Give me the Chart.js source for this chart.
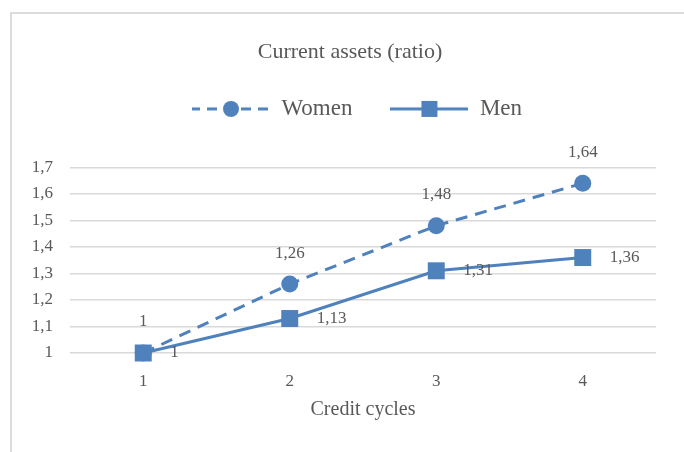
<!DOCTYPE html>
<html>
<head>
<meta charset="utf-8">
<script src="https://cdn.jsdelivr.net/npm/chart.js@4/dist/chart.umd.min.js"></script>
<style>
    html, body { margin: 0; padding: 0; background: #fff; overflow: hidden; }
    .frame {
        position: absolute;
        left: 10px;
        top: 12px;
        width: 676px;
        height: 446px;
        border-left: 2px solid #dcdcdc;
        border-top: 2px solid #dcdcdc;
    }
</style>
</head>
<body>
<div class="frame">
    <canvas id="assetsChart" width="676" height="446"></canvas>
</div>
<script>
const cycles = ['1', '2', '3', '4'];
const womenValues = [1, 1.26, 1.48, 1.64];
const menValues = [1, 1.13, 1.31, 1.36];
const yTicks = [1, 1.1, 1.2, 1.3, 1.4, 1.5, 1.6, 1.7];

const BLUE = '#4f81bd';
const TEXT = '#595959';
const GRID = '#d9d9d9';
const FONT = "'Liberation Serif', 'Times New Roman', serif";

Chart.defaults.font.family = FONT;
Chart.defaults.color = TEXT;

// comma as decimal separator, like the original
function fmt(v) {
    return String(Math.round(v * 100) / 100).replace('.', ',');
}

// little legend swatch: line with its marker in the middle
function legendIcon(dashed, marker) {
    const c = document.createElement('canvas');
    c.width = 78;
    c.height = 20;
    const g = c.getContext('2d');
    g.strokeStyle = BLUE;
    g.fillStyle = BLUE;
    g.lineWidth = 3;
    if (dashed) {
        g.setLineDash([10, 7]);
        g.lineDashOffset = 2;
    }
    g.beginPath();
    g.moveTo(0, 10);
    g.lineTo(78, 10);
    g.stroke();
    if (marker === 'circle') {
        g.beginPath();
        g.arc(39, 10, 8, 0, Math.PI * 2);
        g.fill();
    } else {
        g.fillRect(31, 2, 16, 16);
    }
    return c;
}

// empty boxes: one between legend and plot, one on the right of the plot
function emptyBox(position, size) {
    return {
        position: position,
        weight: 0,
        fullSize: position === 'top',
        options: {},
        isHorizontal() { return position === 'top'; },
        update(maxWidth, maxHeight) {
            if (position === 'top') {
                this.width = maxWidth;
                this.height = size;
            } else {
                this.width = size;
                this.height = maxHeight;
            }
        },
        draw() {}
    };
}

const spacer = {
    id: 'spacer',
    beforeInit(chart) {
        Chart.layouts.addBox(chart, emptyBox('top', 37));
        Chart.layouts.addBox(chart, emptyBox('right', 32));
    },
    afterLayout(chart) {
        // the original legend sits a bit right of the title
        chart.legend.left += 7;
        chart.legend.right += 7;
    }
};

const valueLabels = {
    id: 'valueLabels',
    afterDatasetsDraw(chart) {
        const ctx = chart.ctx;
        ctx.save();
        ctx.font = '17px ' + FONT;
        ctx.fillStyle = TEXT;
        ctx.textBaseline = 'middle';
        chart.data.datasets.forEach((ds, i) => {
            chart.getDatasetMeta(i).data.forEach((pt, j) => {
                const text = fmt(ds.data[j]);
                if (i === 0) {
                    ctx.textAlign = 'center';
                    ctx.fillText(text, pt.x, pt.y - 31);
                } else {
                    ctx.textAlign = 'left';
                    ctx.fillText(text, pt.x + 27, pt.y);
                }
            });
        });
        ctx.restore();
    }
};

const icons = [legendIcon(true, 'circle'), legendIcon(false, 'rect')];

new Chart(document.getElementById('assetsChart'), {
    type: 'line',
    data: {
        labels: cycles,
        datasets: [
            {
                label: 'Women',
                data: womenValues,
                borderColor: BLUE,
                backgroundColor: BLUE,
                borderWidth: 3,
                borderDash: [12, 8],
                pointStyle: 'circle',
                pointRadius: 8.5,
                pointBorderWidth: 0,
                order: 1,
                clip: false
            },
            {
                label: 'Men',
                data: menValues,
                borderColor: BLUE,
                backgroundColor: BLUE,
                borderWidth: 3,
                pointStyle: 'rect',
                pointRadius: 12,
                pointBorderWidth: 0,
                order: 0,
                clip: false
            }
        ]
    },
    options: {
        responsive: false,
        animation: false,
        layout: { padding: 0 },
        plugins: {
            title: {
                display: true,
                text: 'Current assets (ratio)',
                color: TEXT,
                font: { size: 22, weight: 'normal' },
                padding: { top: 25, bottom: -6 }
            },
            legend: {
                display: true,
                position: 'top',
                labels: {
                    usePointStyle: true,
                    pointStyleWidth: 78,
                    padding: 38,
                    color: TEXT,
                    font: { size: 23 },
                    generateLabels: chart => chart.data.datasets.map((ds, i) => ({
                        text: ds.label,
                        pointStyle: icons[i],
                        fillStyle: BLUE,
                        strokeStyle: BLUE,
                        lineWidth: 0,
                        fontColor: TEXT,
                        hidden: false,
                        datasetIndex: i
                    }))
                }
            },
            tooltip: { enabled: false }
        },
        scales: {
            x: {
                offset: true,
                grid: { display: false },
                border: { display: false },
                ticks: { padding: 10, font: { size: 17 }, color: TEXT },
                title: {
                    display: true,
                    text: 'Credit cycles',
                    color: TEXT,
                    font: { size: 20 },
                    padding: { top: 0, bottom: 38 }
                },
                afterFit: scale => { scale.height = 107; }
            },
            y: {
                min: 1,
                max: 1.7,
                afterBuildTicks: scale => { scale.ticks = yTicks.map(v => ({ value: v })); },
                grid: { color: GRID, lineWidth: 1.5, drawTicks: false },
                border: { display: false },
                ticks: {
                    padding: 17,
                    font: { size: 17 },
                    color: TEXT,
                    callback: v => fmt(v)
                },
                afterFit: scale => { scale.width = 58; }
            }
        }
    },
    plugins: [spacer, valueLabels]
});
</script>
</body>
</html>
